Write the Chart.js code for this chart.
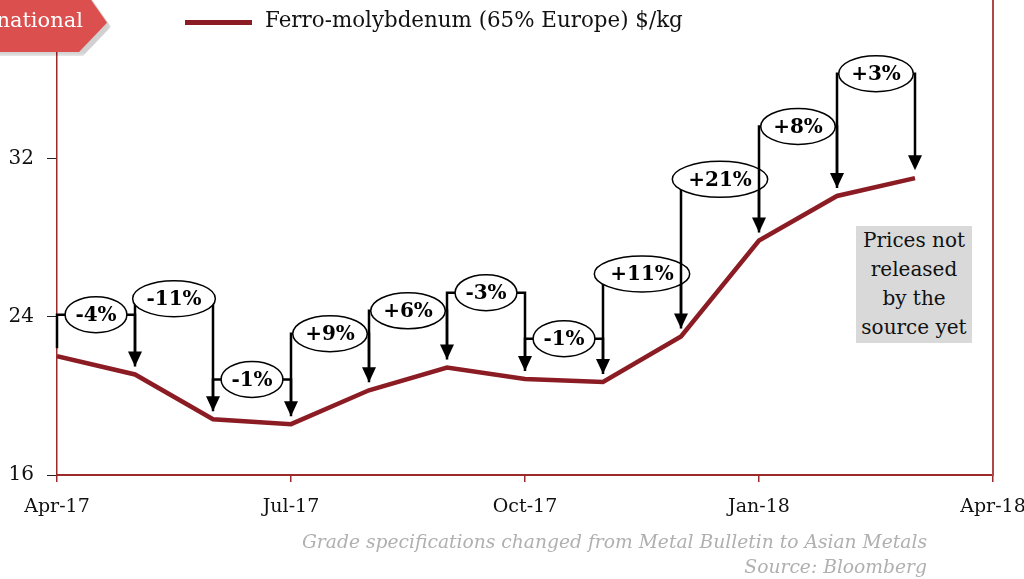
<!DOCTYPE html>
<html lang="en">
<head>
  <meta charset="UTF-8" />
  <title>Ferro-molybdenum price</title>
  <script src="https://cdn.jsdelivr.net/npm/chart.js"></script>
  <style>
    body { margin: 0; background: #fff; font-family: 'DejaVu Serif', serif; }
    #wrap { position: relative; width: 1024px; height: 579px; overflow: hidden; }
    .badge { position: absolute; left: -20px; top: -10px; width: 127px; height: 62px; background: #db4f4f;
             clip-path: polygon(0 0, 82% 0, 100% 53%, 78% 100%, 0 100%); }
    .badge-shadow { position: absolute; left: -16px; top: -6px; width: 127px; height: 62px; background: rgba(0,0,0,0.18);
             clip-path: polygon(0 0, 82% 0, 100% 53%, 78% 100%, 0 100%); filter: blur(2px); }
    .badge-text { position: absolute; right: 941px; top: 8px; color: #fff; font-size: 21px; white-space: nowrap; }
    .legend-line { position: absolute; left: 185px; top: 20px; width: 67px; height: 5px; background: #8c1c24; }
    .legend-text { position: absolute; left: 265px; top: 7px; font-size: 21.4px; color: #111; white-space: nowrap; }
    .note { position: absolute; left: 856px; top: 226px; width: 116px; height: 117px; background: #d9d9d9;
            font-size: 20px; line-height: 29px; text-align: center; color: #111; }
    .foot { position: absolute; right: 97px; font-style: italic; font-size: 18.7px; color: #b0b0b0; white-space: nowrap; }
  </style>
</head>
<body>
<div id="wrap">
  <canvas id="chart" width="1024" height="579"></canvas>
  <div class="badge-shadow"></div>
  <div class="badge"></div>
  <div class="badge-text">national</div>
  <div class="legend-line"></div>
  <div class="legend-text">Ferro-molybdenum (65% Europe) $/kg</div>
  <div class="note">Prices not<br>released<br>by the<br>source yet</div>
  <div class="foot" style="top:531px">Grade specifications changed from Metal Bulletin to Asian Metals</div>
  <div class="foot" style="top:556px">Source: Bloomberg</div>
</div>

<script>
  const months = ['Apr-17','May-17','Jun-17','Jul-17','Aug-17','Sep-17','Oct-17','Nov-17','Dec-17','Jan-18','Feb-18','Mar-18','Apr-18'];
  const prices = [22.0, 21.08, 18.82, 18.57, 20.28, 21.43, 20.85, 20.7, 23.0, 27.85, 30.1, 31.0];
  const changeLabels = ['-4%','-11%','-1%','+9%','+6%','-3%','-1%','+11%','+21%','+8%','+3%'];
  const bracketLevels = [24.10, 24.91, 20.83, 23.14, 24.30, 25.21, 22.89, 26.16, 30.94, 33.61, 36.28];
  const yTicks = [16, 24, 32];
  const xTicks = [0, 3, 6, 9, 12];

  const axisRed = '#9b2a2a';

  // brackets + arrows showing month-on-month change
  const changeArrows = {
    id: 'changeArrows',
    afterDatasetsDraw(chart) {
      const ctx = chart.ctx, xs = chart.scales.x, ys = chart.scales.y;
      const gap = 8;
      ctx.save();
      ctx.font = 'bold 20px "DejaVu Serif", serif';
      for (let i = 1; i < prices.length; i++) {
        const x0 = xs.getPixelForValue(i - 1), x1 = xs.getPixelForValue(i);
        const yb = ys.getPixelForValue(bracketLevels[i - 1]);
        const yPrev = ys.getPixelForValue(prices[i - 1]) - gap;
        const yCur = ys.getPixelForValue(prices[i]) - gap;

        ctx.strokeStyle = '#000';
        ctx.lineWidth = 2.5;
        ctx.beginPath();
        ctx.moveTo(x0, yPrev); ctx.lineTo(x0, yb);
        ctx.lineTo(x1, yb); ctx.lineTo(x1, yCur - 14);
        ctx.stroke();
        // arrow head
        ctx.fillStyle = '#000';
        ctx.beginPath();
        ctx.moveTo(x1 - 7, yCur - 15); ctx.lineTo(x1 + 7, yCur - 15); ctx.lineTo(x1, yCur);
        ctx.closePath(); ctx.fill();

        // label ellipse
        const tw = ctx.measureText(changeLabels[i - 1]).width;
        const cx = (x0 + x1) / 2;
        ctx.beginPath();
        ctx.ellipse(cx, yb, tw * 1.5 / 2, 18, 0, 0, Math.PI * 2);
        ctx.fillStyle = '#fff'; ctx.fill();
        ctx.lineWidth = 1.5; ctx.stroke();
        ctx.fillStyle = '#000';
        ctx.textAlign = 'center'; ctx.textBaseline = 'middle';
        ctx.fillText(changeLabels[i - 1], cx, yb + 1);
      }
      ctx.restore();
    }
  };

  new Chart(document.getElementById('chart'), {
    type: 'line',
    data: {
      datasets: [{
        label: 'Ferro-molybdenum (65% Europe) $/kg',
        data: prices.map((v, i) => ({ x: i, y: v })),
        borderColor: '#8c1c24',
        borderWidth: 4.5,
        pointRadius: 0,
        tension: 0
      }]
    },
    options: {
      responsive: false,
      animation: false,
      layout: { padding: { left: 0, right: 31, top: 0, bottom: 0 } },
      plugins: { legend: { display: false }, tooltip: { enabled: false } },
      scales: {
        x: {
          type: 'linear', min: 0, max: 12,
          afterBuildTicks: s => { s.ticks = xTicks.map(v => ({ value: v })); },
          afterFit: s => { s.height = 104; s.paddingLeft = 0; s.paddingRight = 0; },
          ticks: { callback: v => months[v], color: '#111', font: { family: 'DejaVu Serif', size: 19 }, padding: 14, maxRotation: 0 },
          grid: { drawOnChartArea: false, drawTicks: true, tickLength: 7, color: axisRed, lineWidth: 1.5 },
          border: { color: axisRed, width: 2 }
        },
        y: {
          min: 16, max: 40,
          afterBuildTicks: s => { s.ticks = yTicks.map(v => ({ value: v })); },
          afterFit: s => { s.width = 57; s.paddingTop = 0; s.paddingBottom = 0; },
          ticks: { color: '#111', font: { family: 'DejaVu Serif', size: 20 }, padding: 13 },
          grid: { drawOnChartArea: false, drawTicks: true, tickLength: 10, color: '#222', lineWidth: 1 },
          border: { color: axisRed, width: 1.5 }
        },
        y2: {
          position: 'right', min: 16, max: 40,
          afterFit: s => { s.width = 0; s.paddingTop = 0; s.paddingBottom = 0; },
          ticks: { display: false },
          grid: { display: false, drawTicks: false },
          border: { display: true, color: '#b04848', width: 2 }
        }
      }
    },
    plugins: [changeArrows]
  });
</script>
</body>
</html>
